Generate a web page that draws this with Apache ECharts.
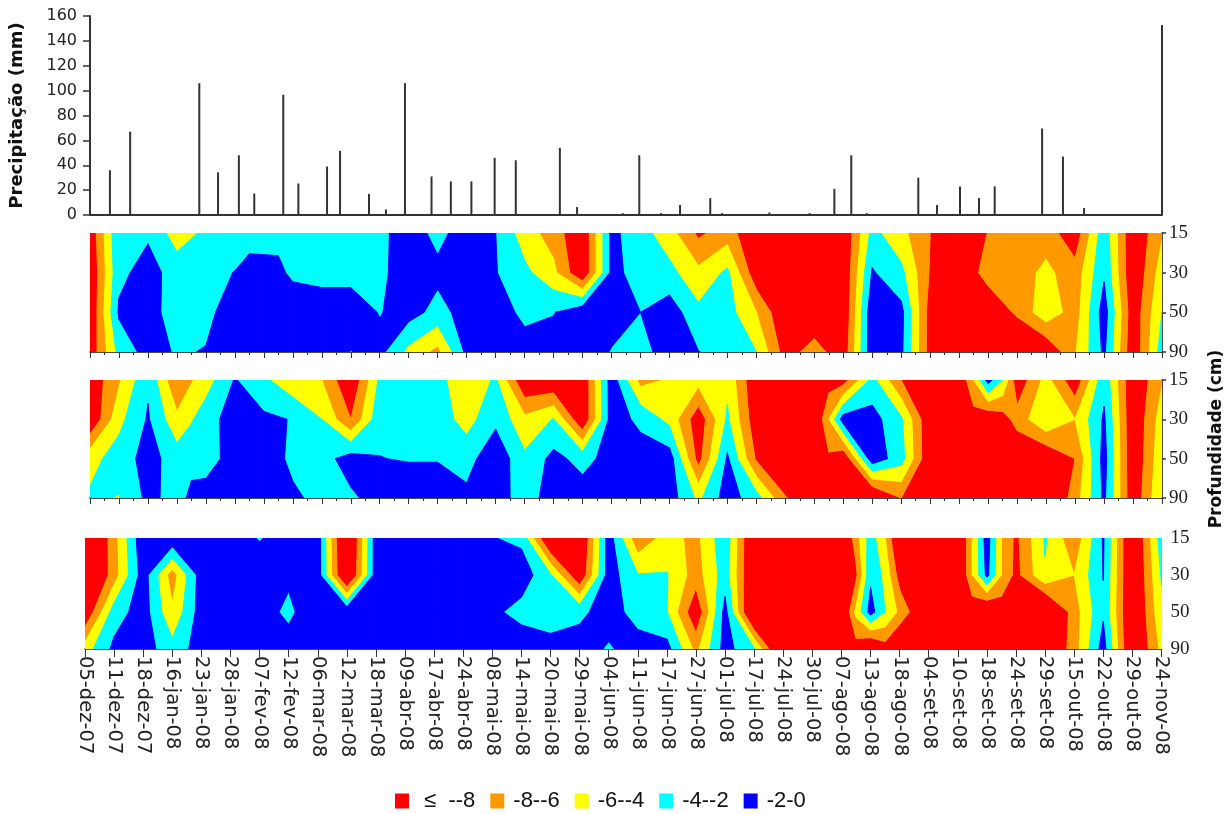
<!DOCTYPE html>
<html><head><meta charset="utf-8">
<style>html,body{margin:0;padding:0;background:#fff}#c{width:1227px;height:814px}</style>
<script src="https://cdn.jsdelivr.net/npm/echarts@6/dist/echarts.min.js"></script>
</head><body><div id="c"></div>
<script>
const dateLabels=['05-dez-07','11-dez-07','18-dez-07','16-jan-08','23-jan-08','28-jan-08','07-fev-08','12-fev-08','06-mar-08','12-mar-08','18-mar-08','09-abr-08','17-abr-08','24-abr-08','08-mai-08','14-mai-08','20-mai-08','29-mai-08','04-jun-08','11-jun-08','17-jun-08','27-jun-08','01-jul-08','17-jul-08','24-jul-08','30-jul-08','07-ago-08','13-ago-08','18-ago-08','04-set-08','10-set-08','18-set-08','24-set-08','29-set-08','15-out-08','22-out-08','29-out-08','24-nov-08'];
const depthLabels=['15','30','50','90'];
const bandNames=[' ≤  --8','-8--6','-6--4','-4--2','-2-0'];
const bandColors=['#ff0000','#ff9900','#ffff00','#00ffff','#0000ff'];
const bandLimits=[-Infinity,-8,-6,-4,-2,Infinity];
const rainDays=[6.6,13.3,36.2,42.4,49.3,54.4,64,69,78.5,82.8,92.4,98,104.3,113.1,119.5,126.3,134,141,155.6,161.3,176.4,181.9,189.1,195.4,205.4,209.3,225,238.3,246.5,252.1,257.2,274.3,280.5,288.1,294.4,299.6,315.3,322.2,329.2,355];
const rainMm=[36,67,106,34.3,48,17.3,96.6,25.3,39,51.6,17,4.5,106,31,27,27,46,44,54,6.4,1.5,48,1.5,8,13.6,1.5,2,1.5,21,48,1.5,30,8,23,13.6,23,69.5,47,5.6,152.8];
const panelA15=[-9.6,-2.2,-2.3,-5,-3.6,-3,-2.6,-2.6,-2.8,-2.8,-2.5,-1,-2.6,-1,-2,-5.1,-6.9,-10,-1.5,-3.2,-5.2,-8.4,-7,-10,-11,-11,-10,-3.4,-5.4,-8,-11,-7.9,-7,-7,-9.4,-2.7,-10,-6.2];
const panelA30=[-10,-2.5,-1.2,-2.9,-2.6,-1.95,-1.5,-2.3,-2.6,-2.6,-2.3,-1.3,-1.5,-1,-1.9,-3.5,-5.5,-10,-1.5,-2.7,-3.4,-5.5,-3.6,-9.5,-11,-11,-10,-1.8,-3.5,-8.2,-10,-7,-7,-5.5,-7.2,-2.3,-10,-5];
const panelA50=[-10,-1.7,-1.2,-3,-2.5,-1,-1,-1,-1,-1,-2.1,-1.2,-2.7,-1.2,-1.2,-2.4,-2.1,-0.5,-1.3,-2,-0.9,-3.5,-3.2,-6,-10,-10,-10,-0.5,-1.4,-9,-11,-10,-7.6,-4.7,-7,-1,-9.5,-4];
const panelA90=[-9.5,-3.4,-1.2,-2.2,-1.9,-1,-1,-1,-1,-2.05,-1.4,-4.6,-6.6,-1.5,-1,-1.3,-1,-1,-2.1,-2.3,-1.6,-1.95,-2.7,-4,-9,-7,-9.5,-0.5,-1.6,-9,-11,-11,-11,-10,-6.2,-1.6,-9.8,-3];
const panelB15=[-9.5,-6.3,-2.3,-8,-4.95,-1.85,-3.6,-5.5,-6,-10,-3.6,-3,-3.3,-5.6,-3.7,-10,-10,-10,-0.9,-6.7,-5.8,-5.3,-4.5,-10,-11,-11,-9,-3.4,-8,-11,-10,-1.2,-9.5,-5.3,-9.5,-2.6,-10,-6.2];
const panelB30=[-10,-4.6,-1.8,-5.5,-2.9,-1,-1.6,-2.1,-4,-8,-2.6,-3,-3,-4.8,-2.5,-5.5,-3.9,-10,-1,-2.5,-4.6,-9.4,-3.7,-9.5,-11,-10.5,-1,-1.2,-3.7,-10,-11,-10,-7.2,-4.2,-6,-1.7,-10,-5];
const panelB50=[-4.7,-3.1,-1.2,-3,-2.5,-1.5,-1,-2.4,-2.8,-1.1,-1.95,-2.15,-2.15,-2.8,-0.5,-3.6,-1.4,-2.7,-1.2,-1,-1,-8.8,-1.7,-8.3,-11,-11,-10,-0.7,-3.2,-10,-11,-11,-10,-10,-8,-1.2,-10,-4.5];
const panelB90=[-3.7,-4.1,-1.5,-2.7,-1.5,-1,-1,-1.7,-2.5,-2.35,-1.2,-0.5,-0.5,-1.5,-1,-3,-1,-1,-1,-1,-1,-4.5,-1,-3.2,-7.8,-11,-11,-11,-8,-11,-11,-11,-11,-11,-7,-1.6,-9.7,-4];
const panelC15=[-12.5,-6.8,-0.5,-0.5,-1,-1,-2.15,-1,-1,-12,-1,-1,-1,-1,-1.9,-2.5,-11,-11,-1,-7.5,-5.2,-6.6,-2.6,-11,-11,-11,-11,-3,-11,-11,-11,-1,-8.5,-3.8,-7.5,-1.8,-11,-3];
const panelC30=[-12,-7,-1,-7,-1,-1,-0.7,-1.6,-1,-11.5,-1,-1,-1,-1,-1,-0.8,-3.8,-10,-1,-3.9,-3.9,-7,-3,-11,-11,-11,-11,-2.4,-9,-11,-11,-1.5,-8.7,-4.2,-6,-1.95,-11,-3.8];
const panelC50=[-10,-3,-1,-5.7,-1,-1,-1,-2.5,-0.3,-0.5,-1,-1,-1,-1,-1.5,-2.8,-3.1,-2.5,-1,-2.9,-3.9,-9.8,-1.3,-12,-11,-11,-11,-1.2,-6.5,-11,-11,-11,-11,-12,-7,-2.3,-11,-4.5];
const panelC90=[-5,-1.5,-1,-3.3,-1,-1,-1,-1,-1,-1,-1,-1,-1,-1,-1,-0.5,-1.2,-1,-2.25,-1,-1.3,-6.6,-1.2,-3.8,-12,-11,-11,-11,-11,-11,-11,-11,-11,-11,-7,-1.1,-11,-5.5];
// readings taken between two labelled dates: [column, 15 cm, 30 cm, 50 cm, 90 cm]
const panelAExtra=[[5.5,-2.6,-1.45,-1,-1],[6.5,-2.4,-1.7,-1,-1]];
const panelBExtra=[[3.5,-6.2,-4.2,-2.5,-1.6],[25.5,-9,-6,-8.4,-11],[30.5,-6,-9,-11,-11],[31.5,-4,-9,-11,-11]];
const panelCExtra=[[26.5,-7,-8.5,-5.5,-9],[27.5,-6,-4.6,-4,-9],[30.5,-6,-6,-9.5,-11],[31.5,-6,-6,-9.5,-11]];

const panels=[
  {rows:[panelA15,panelA30,panelA50,panelA90],extra:panelAExtra},
  {rows:[panelB15,panelB30,panelB50,panelB90],extra:panelBExtra},
  {rows:[panelC15,panelC30,panelC50,panelC90],extra:panelCExtra}
];

function cellsOf(p){
  const cols=p.rows[0].map((_,k)=>({x:k,v:p.rows.map(r=>r[k])}));
  p.extra.forEach(e=>cols.push({x:e[0],v:e.slice(1)}));
  cols.sort((a,b)=>a.x-b.x);
  const out=[];
  for(let r=0;r<p.rows.length-1;r++)for(let c=0;c<cols.length-1;c++)
    out.push([cols[c].x,r,cols[c+1].x,cols[c].v[r],cols[c+1].v[r],cols[c].v[r+1],cols[c+1].v[r+1]]);
  return out;
}
function clip(poly,limit,keepAbove){
  const out=[];
  const inside=p=>keepAbove?p[2]>=limit:p[2]<=limit;
  for(let i=0;i<poly.length;i++){
    const a=poly[i],b=poly[(i+1)%poly.length];
    const ia=inside(a),ib=inside(b);
    if(ia)out.push(a);
    if(ia!==ib){
      const t=(limit-a[2])/(b[2]-a[2]);
      out.push([a[0]+(b[0]-a[0])*t,a[1]+(b[1]-a[1])*t,limit]);
    }
  }
  return out;
}
function bandRenderer(b){
  return function(params,api){
    const x0=api.value(0),r=api.value(1),x1=api.value(2);
    const at=(x,y,val)=>{const p=api.coord([x,y]);return [p[0],p[1],val];};
    let poly=[at(x0,r,api.value(3)),at(x1,r,api.value(4)),at(x1,r+1,api.value(6)),at(x0,r+1,api.value(5))];
    if(isFinite(bandLimits[b]))poly=clip(poly,bandLimits[b],true);
    if(poly.length&&isFinite(bandLimits[b+1]))poly=clip(poly,bandLimits[b+1],false);
    if(poly.length<3)return null;
    return {type:'polygon',shape:{points:poly.map(p=>[p[0],p[1]])},
      style:{fill:bandColors[b],stroke:bandColors[b],lineWidth:1}};
  };
}

const DARK='#222';
const grids=[
  {left:90,right:65,top:16,height:199,outerBoundsMode:'none'},
  {left:90,right:65,top:233,height:119,outerBoundsMode:'none'},
  {left:90,right:65,top:380,height:118,outerBoundsMode:'none'},
  {left:85,right:65.5,top:538,height:111,outerBoundsMode:'none'}
];
const xAxes=[
  {gridIndex:0,type:'value',min:0,max:355,show:true,splitLine:{show:false},axisTick:{show:false},axisLabel:{show:false},axisLine:{onZero:false,lineStyle:{color:'#333',width:2}}}
];
const yAxes=[
  {gridIndex:0,type:'value',min:0,max:160,interval:20,splitLine:{show:false},
   name:'Precipitação (mm)',nameLocation:'middle',nameGap:64,nameRotate:90,
   nameTextStyle:{fontFamily:'DejaVu Sans',fontWeight:'bold',fontSize:18,color:'#111'},
   axisLine:{show:true,onZero:false,lineStyle:{color:'#333',width:2}},axisTick:{show:true,length:7,lineStyle:{color:'#333',width:1.5}},
   axisLabel:{margin:13,fontFamily:'DejaVu Sans',fontSize:16,color:DARK}}
];
[0,1,2].forEach(i=>{
  const isLast=i===2;
  xAxes.push({gridIndex:i+1,type:'value',min:0,max:dateLabels.length-1,interval:1,
    splitLine:{show:false},minorSplitLine:{show:false},
    axisLine:{onZero:false,lineStyle:{color:'#111',width:1.5}},
    axisTick:{show:true,length:isLast?8:6,lineStyle:{color:'#333',width:1}},
    minorTick:{show:!isLast,splitNumber:2,length:3,lineStyle:{color:'#333',width:1}},
    axisLabel:isLast?{show:true,rotate:-90,margin:7,fontFamily:'DejaVu Sans',fontSize:19.5,color:DARK,
      hideOverlap:false,showMinLabel:true,showMaxLabel:true,formatter:v=>dateLabels[v]}:{show:false}});
  yAxes.push(Object.assign({gridIndex:i+1,type:'value',inverse:true,min:0,max:depthLabels.length-1,interval:1,position:'right',
    splitLine:{show:false},
    axisLine:{show:!isLast,onZero:false,lineStyle:{color:'#111',width:1.5}},
    axisTick:{show:!isLast,length:4,lineStyle:{color:'#333',width:1.5}},
    axisLabel:{margin:isLast?9:7,fontFamily:'Liberation Sans Narrow',fontSize:19,color:DARK,formatter:v=>depthLabels[v]}},
    i===1?{name:'Profundidade (cm)',nameLocation:'middle',nameGap:46,nameRotate:90,
      nameTextStyle:{fontFamily:'DejaVu Sans',fontWeight:'bold',fontSize:17,color:'#111'}}:{}));
});
const series=[{type:'bar',name:'Precipitação',xAxisIndex:0,yAxisIndex:0,barWidth:2,
  itemStyle:{color:'#333'},data:rainDays.map((d,i)=>[d,rainMm[i]]),clip:false,animation:false}];
panels.forEach((p,i)=>{
  const data=cellsOf(p);
  bandNames.forEach((n,b)=>{
    series.push({type:'custom',name:n,xAxisIndex:i+1,yAxisIndex:i+1,coordinateSystem:'cartesian2d',
      encode:{x:0,y:1},data,itemStyle:{color:bandColors[b]},clip:true,progressive:0,animation:false,silent:true,
      renderItem:bandRenderer(b)});
  });
});
const chart=echarts.init(document.getElementById('c'),null,{renderer:'canvas'});
chart.setOption({
  backgroundColor:'#fff',animation:false,
  grid:grids,xAxis:xAxes,yAxis:yAxes,series,
  legend:{data:bandNames,left:395,top:790,padding:0,icon:'rect',itemWidth:14,itemHeight:15,itemGap:15,selectedMode:false,
    textStyle:{fontFamily:'Liberation Sans',fontSize:22,color:'#111',padding:[0,0,0,4]}}
});
</script></body></html>
